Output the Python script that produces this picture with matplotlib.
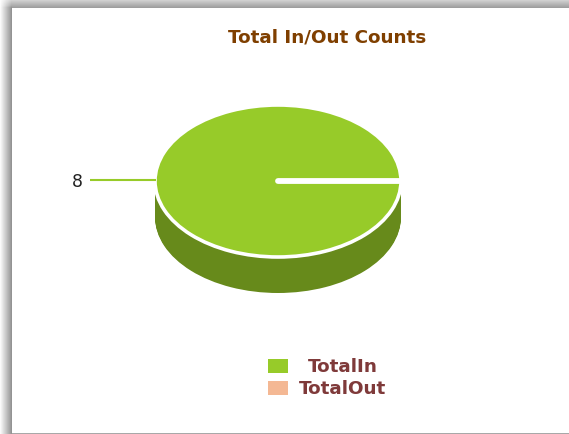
import numpy as np
import matplotlib
matplotlib.use("Agg")
import matplotlib.pyplot as plt
from matplotlib.patches import Rectangle

categories = ["TotalIn", "TotalOut"]
values = [8, 0]
colors = ["#97cb29", "#f4b894"]
side_color = "#678a1b"
title = "Total In/Out Counts"
title_color = "#7f3f00"
legend_color = "#7f3a3a"

W, H = 569, 435
fig = plt.figure(figsize=(W / 100, H / 100), dpi=100, facecolor="white")

# Window shadow
bg = fig.add_axes([0, 0, 1, 1], zorder=0)
bg.axis("off")
shade = np.ones((H, W))
top_depth = np.linspace(0.16, 0.38, 9)
left_depth = np.linspace(0.02, 0.42, 12)
left_fade = left_depth / left_depth.max()
top_fade = np.linspace(0.1, 1.0, 9)
shade[:9, :] = 1 - top_depth[:, None]
shade[:9, :12] = 1 - top_depth[:, None] * left_fade[None, :]
shade[9:, :12] = 1 - left_depth[None, :]
shade[:9, :12] = np.minimum(shade[:9, :12], 1 - left_depth[None, :] * top_fade[:, None])
shade[-1, 12:] = 0.66
bg.imshow(shade, cmap="gray", vmin=0, vmax=1, extent=(0, W, H, 0), aspect="auto", interpolation="nearest")

# Pie: axes spans the ellipse of the top face
cx0, cx1, cy0, cy1 = 155, 401, 106, 258
pie_ax = fig.add_axes([cx0 / W, 1 - cy1 / H, (cx1 - cx0) / W, (cy1 - cy0) / H], zorder=2)
depth = 36 / ((cy1 - cy0) / 2)
for d in np.linspace(depth, 0.02, 40):
    pie_ax.pie(values, colors=[side_color] * 2, center=(0, -d), radius=1.0,
               wedgeprops={"linewidth": 0}, frame=False)
top_wedges, _ = pie_ax.pie(values, colors=colors, center=(0, 0), radius=1.0,
                           wedgeprops={"linewidth": 2.6, "edgecolor": "white",
                                       "joinstyle": "round", "capstyle": "round"},
                           frame=False)
top_wedges[1].set_linewidth(4.2)
pie_ax.set_aspect("auto")
pie_ax.set_xlim(-1, 1)
pie_ax.set_ylim(-1, 1)
pie_ax.axis("off")
for p in pie_ax.patches:
    p.set_clip_on(False)

# Overlay
ov = fig.add_axes([0, 0, 1, 1], zorder=3)
ov.set_xlim(0, W); ov.set_ylim(H, 0); ov.axis("off")
ov.patch.set_alpha(0)
ov.text(327, 38, title, ha="center", va="center", fontsize=13.2, fontweight="bold",
        color=title_color, family="DejaVu Sans")
ov.plot([90, 156], [180.5, 180.5], color=colors[0], lw=1.5, solid_capstyle="butt")
ov.text(77, 182, str(values[0]), ha="center", va="center", fontsize=12.5, color="#222222",
        family="DejaVu Sans")
for i, (name, col) in enumerate(zip(categories, colors)):
    y = 367 + i * 22
    ov.add_patch(Rectangle((268, y - 7), 20, 14, facecolor=col, edgecolor="none"))
    ov.text(343, y, name, ha="center", va="center", fontsize=13.2, fontweight="bold",
            color=legend_color, family="DejaVu Sans")

fig.savefig("out.png", dpi=100, facecolor="white")
